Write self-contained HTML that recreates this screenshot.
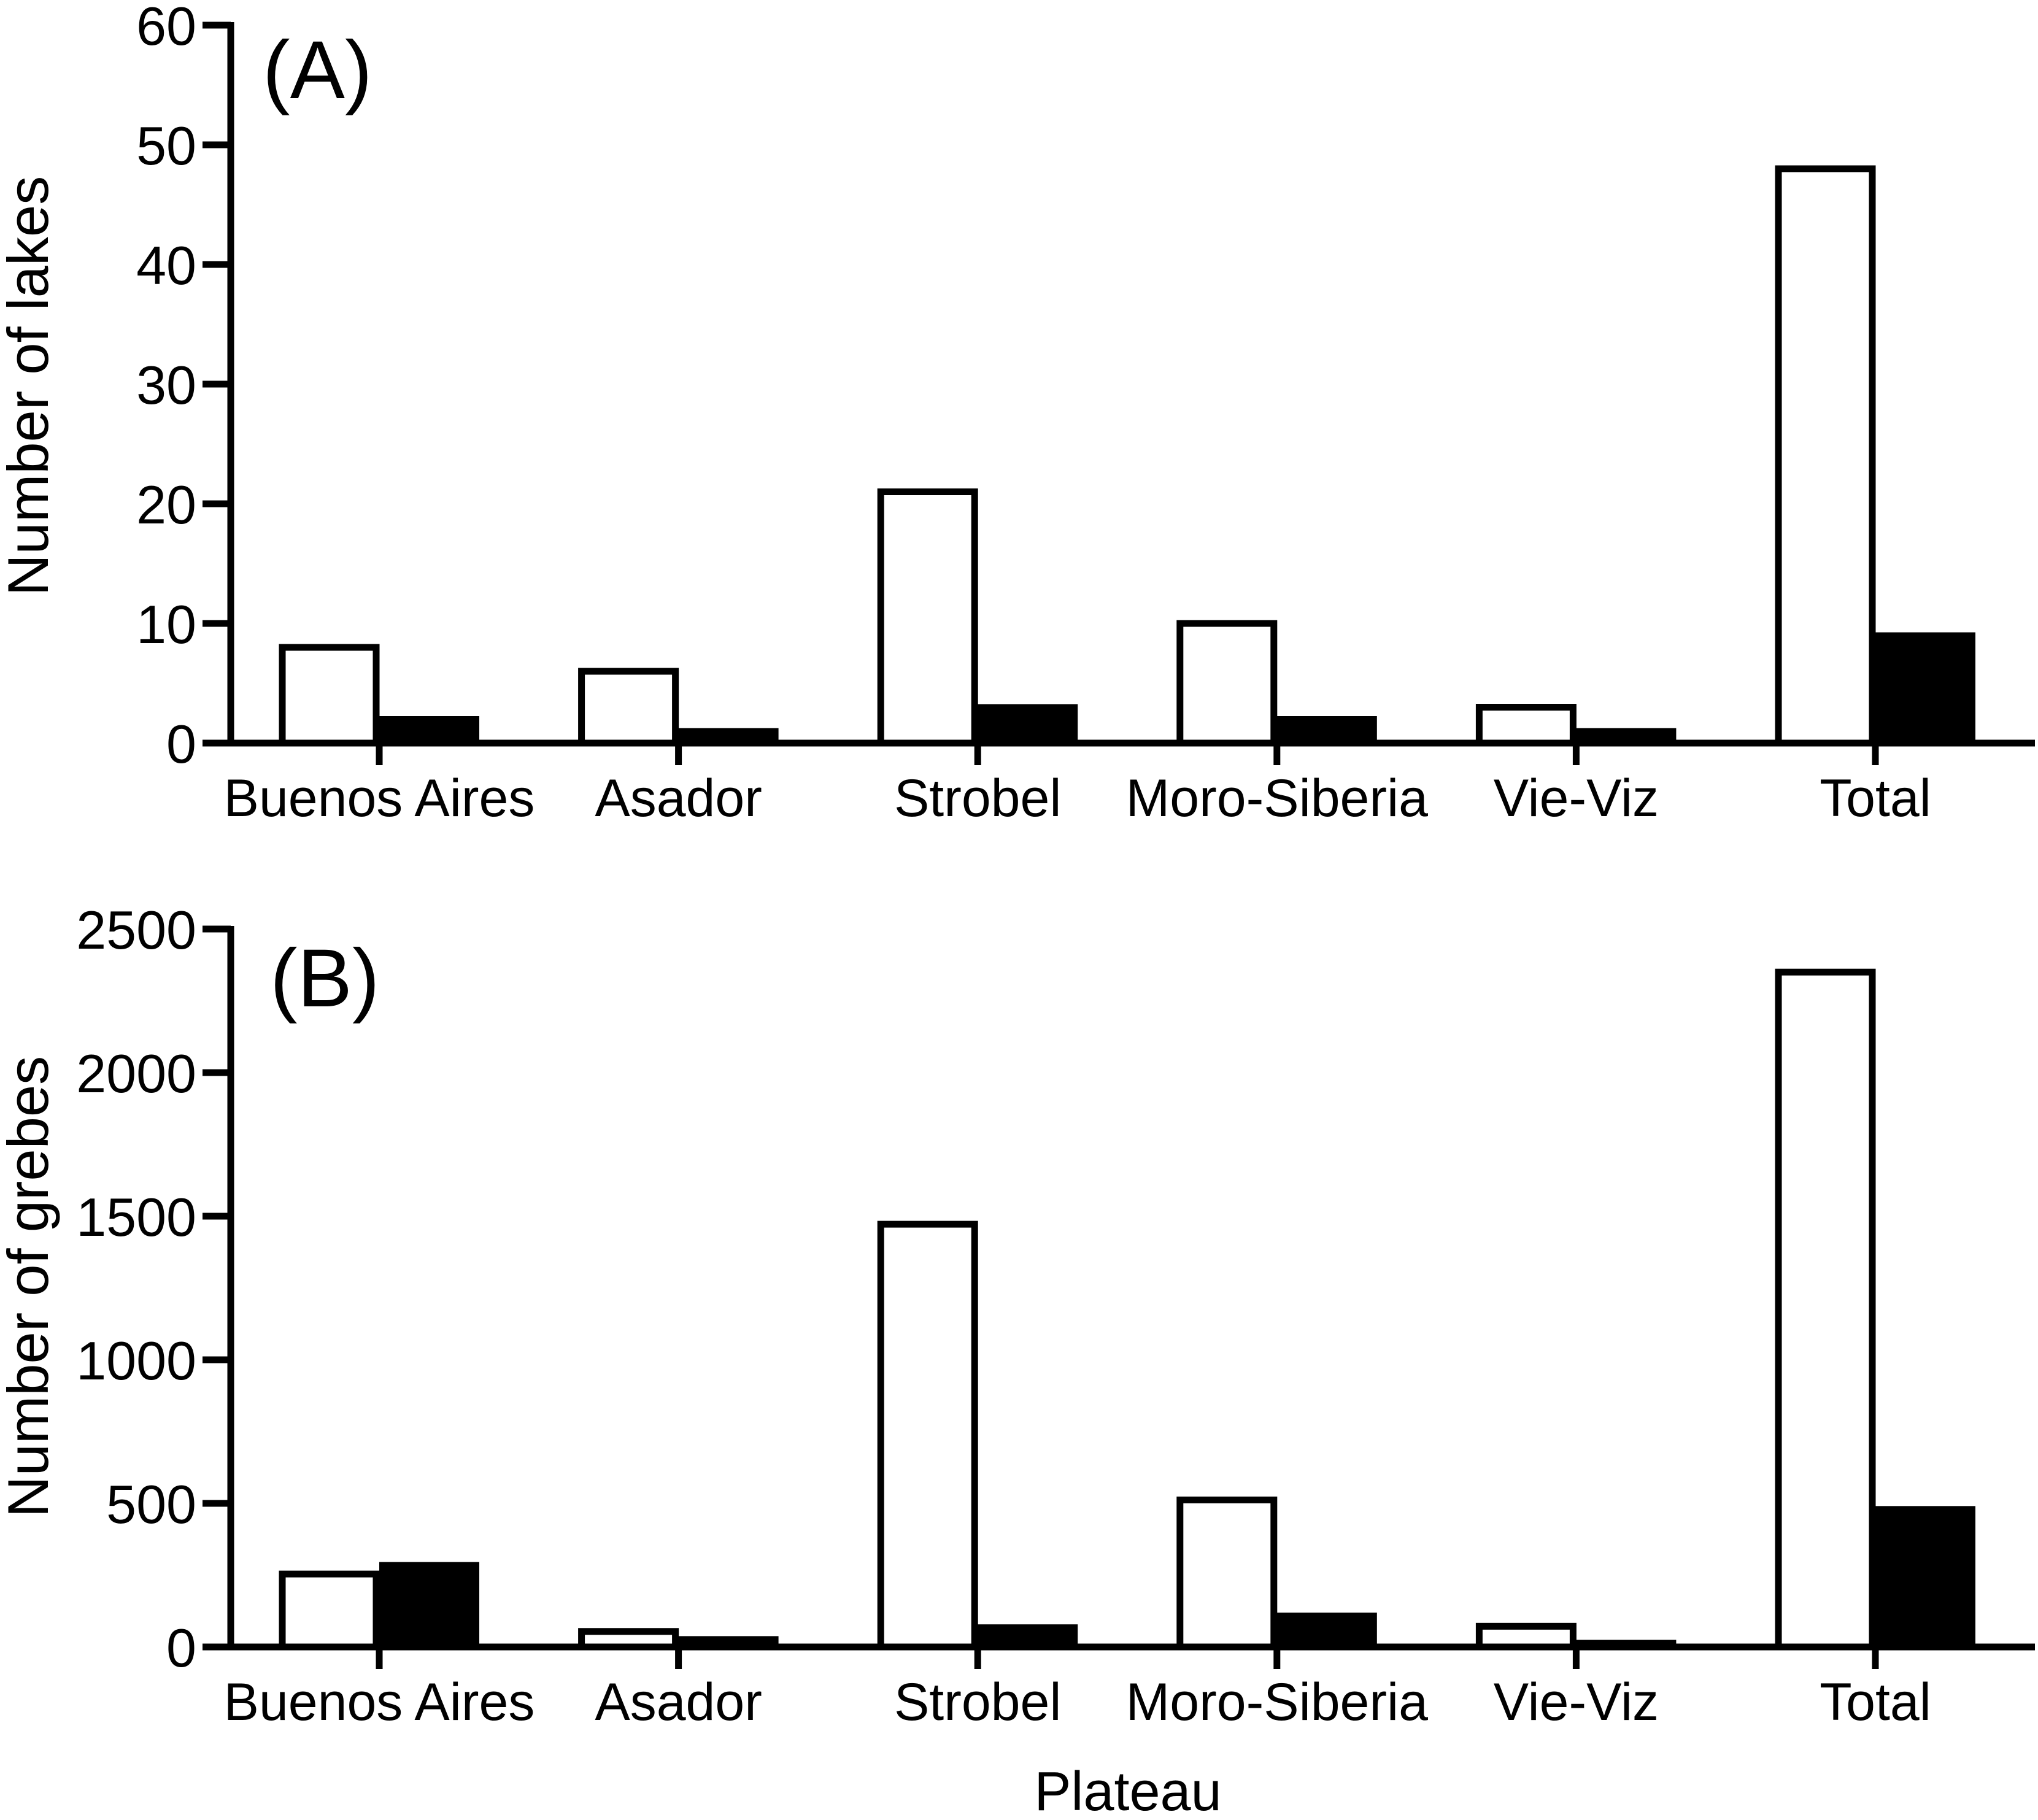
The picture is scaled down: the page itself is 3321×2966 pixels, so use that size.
<!DOCTYPE html>
<html><head><meta charset="utf-8"><style>
html,body{margin:0;padding:0;background:#fff;}
svg{display:block;}
text{font-family:"Liberation Sans",sans-serif;fill:#000;}
</style></head><body>
<svg id="chart" width="3321" height="2966" viewBox="0 0 3321 2966" xmlns="http://www.w3.org/2000/svg">
<text x="1838" y="2950" font-size="90" text-anchor="middle">Plateau</text>
</svg>
<script>
const categories = ["Buenos Aires","Asador","Strobel","Moro-Siberia","Vie-Viz","Total"];
const lakesWhite = [8,6,21,10,3,48];
const lakesBlack = [2,1,3,2,1,9];
const grebesWhite = [254,54,1472,512,72,2350];
const grebesBlack = [285,27,68,109,14,480];
const lakesTicks = [0,10,20,30,40,50,60];
const grebesTicks = [0,500,1000,1500,2000,2500];

const NS = "http://www.w3.org/2000/svg";
const svg = document.getElementById('chart');
function mk(tag, attrs, parent){
  const e = document.createElementNS(NS, tag);
  for (const k in attrs) e.setAttribute(k, attrs[k]);
  (parent||svg).appendChild(e);
  return e;
}
const axisX = 376, xEnd = 3316;
function catX(i){ return 618 + i*487.6; }
const barW = 163;

function panel(opts){
  const g = mk('g', {});
  
  
  const y = v => opts.y0 - (v/opts.max)*(opts.y0-opts.yTop);
  opts.white.forEach((v,i)=>{
    const r = mk('rect', {x: catX(i)-barW+5, y: y(v), width: barW-10, height: opts.y0-y(v), fill:'#fff', stroke:'#000', 'stroke-width':11}, g);
    
    
  });
  opts.black.forEach((v,i)=>{
    const r = mk('rect', {x: catX(i), y: y(v)-5, width: barW, height: opts.y0-y(v)+5, fill:'#000'}, g);
    
    
  });
  const ya = mk('line', {x1:axisX, y1:opts.yTop-5, x2:axisX, y2:opts.y0+5, stroke:'#000','stroke-width':11}, g);
  
  
  const xa = mk('line', {x1:axisX-5, y1:opts.y0, x2:xEnd, y2:opts.y0, stroke:'#000','stroke-width':11}, g);
  
  
  opts.ticks.forEach(t=>{
    const tl = mk('line', {x1:axisX-46, y1:y(t), x2:axisX, y2:y(t), stroke:'#000','stroke-width':11}, g);
    
    
    const tx = mk('text', {x:axisX-56, y:y(t)+32, 'font-size':88, 'text-anchor':'end'}, g);
    tx.textContent = t;
    
    
  });
  categories.forEach((c,i)=>{
    const tl = mk('line', {x1:catX(i), y1:opts.y0, x2:catX(i), y2:opts.y0+36, stroke:'#000','stroke-width':11}, g);
    
    
    const tx = mk('text', {x:catX(i), y:opts.y0+119, 'font-size':86, 'text-anchor':'middle'}, g);
    tx.textContent = c;
    
    
  });
  const pl = mk('text', {x:opts.lx, y:opts.ly, 'font-size':134}, g);
  pl.textContent = opts.label;
  
  
  const yt = mk('text', {x:0, y:0, 'font-size':94, 'text-anchor':'middle', transform:`translate(78,${opts.titleY}) rotate(-90)`}, g);
  yt.textContent = opts.title;
  
  
}
panel({name:'panel-a-lakes', y0:1211, yTop:41, max:60, white:lakesWhite, black:lakesBlack, ticks:lakesTicks, label:'(A)', lx:428, ly:160, title:'Number of lakes', titleY:629});
panel({name:'panel-b-grebes', y0:2684, yTop:1514, max:2500, white:grebesWhite, black:grebesBlack, ticks:grebesTicks, label:'(B)', lx:440, ly:1640, title:'Number of grebes', titleY:2097});
</script>
</body></html>
